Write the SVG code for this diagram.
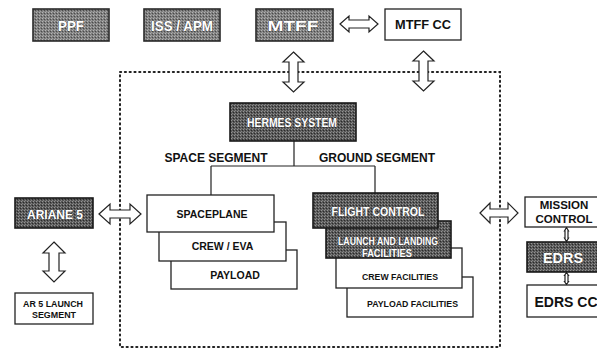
<svg xmlns="http://www.w3.org/2000/svg" width="597" height="353" viewBox="0 0 597 353">
<style>
  .lbl { font-family: "Liberation Sans", Arial, sans-serif; font-weight: bold; fill: #111; text-anchor: middle; dominant-baseline: central; }
  .wlbl { font-family: "Liberation Sans", Arial, sans-serif; font-weight: bold; fill: #fff; stroke: #333; stroke-width: 0.6; paint-order: stroke; text-anchor: middle; dominant-baseline: central; }
  .wbox { fill: #fff; stroke: #222; stroke-width: 1.3; }
  .gbox { fill: url(#gmid); stroke: #2a2a2a; stroke-width: 1.6; }
  .dbox { fill: url(#gdark); stroke: #1a1a1a; stroke-width: 1.6; }
  .line { fill: none; stroke: #222; stroke-width: 1.2; }
  .arrow { fill: #fff; stroke: #222; stroke-width: 1.2; stroke-linejoin: miter; }
  .dots { fill: none; stroke: #222; stroke-width: 2; stroke-dasharray: 1.2 3.6; stroke-linecap: round; }
</style>
<defs>
  <pattern id="gmid" width="3" height="3" patternUnits="userSpaceOnUse">
    <rect width="3" height="3" fill="#7e7e7e"/>
    <rect x="0" y="0" width="1" height="1" fill="#b4b4b4"/>
    <rect x="2" y="1" width="1" height="1" fill="#4a4a4a"/>
    <rect x="1" y="2" width="1" height="1" fill="#a0a0a0"/>
  </pattern>
  <pattern id="gdark" width="3" height="3" patternUnits="userSpaceOnUse">
    <rect width="3" height="3" fill="#585858"/>
    <rect x="0" y="0" width="1" height="1" fill="#949494"/>
    <rect x="2" y="1" width="1" height="1" fill="#2a2a2a"/>
    <rect x="1" y="2" width="1" height="1" fill="#828282"/>
  </pattern>
</defs>

<rect width="597" height="353" fill="#fff"/>

<!-- connectors -->
<g id="connectors">
  <rect class="dots" x="120" y="72" width="380" height="275"/>
  <path class="line" d="M294 141 V166 M211 166 H375 M211 166 V195 M375 166 V193"/>
  <!-- MTFF <-> MTFF CC -->
  <path class="arrow" d="M340 24 L349 16 L349 20 L369 20 L369 16 L378 24 L369 32 L369 28 L349 28 L349 32 Z"/>
  <!-- MTFF vertical -->
  <path class="arrow" d="M293.5 52 L304 62 L298 62 L298 82 L304 82 L293.5 92 L283 82 L289 82 L289 62 L283 62 Z"/>
  <!-- MTFF CC vertical -->
  <path class="arrow" d="M423.5 51 L434 61 L428 61 L428 81 L434 81 L423.5 91 L413 81 L419 81 L419 61 L413 61 Z"/>
  <!-- Ariane horizontal -->
  <path class="arrow" d="M99 214 L110 204 L110 210 L130 210 L130 204 L141 214 L130 224 L130 218 L110 218 L110 224 Z"/>
  <!-- Mission control horizontal -->
  <path class="arrow" d="M480 213 L490 203 L490 209 L508 209 L508 203 L518 213 L508 223 L508 217 L490 217 L490 223 Z"/>
  <!-- Ariane vertical -->
  <path class="arrow" d="M54 242 L65 253 L59 253 L59 271 L65 271 L54 282 L43 271 L49 271 L49 253 L43 253 Z"/>
  <!-- small EDRS connectors -->
  <path class="arrow" d="M566.5 227.5 L568.5 231 L568 231 L568 238 L568.5 238 L566.5 241.5 L564.5 238 L565 238 L565 231 L564.5 231 Z"/>
  <path class="arrow" d="M566.5 272.5 L568.5 275.5 L568 275.5 L568 281.5 L568.5 281.5 L566.5 284.5 L564.5 281.5 L565 281.5 L565 275.5 L564.5 275.5 Z"/>
</g>

<g id="ppf">
  <rect class="gbox" x="33" y="9" width="76" height="32"/>
  <text class="wlbl" x="71" y="25.5" font-size="14" textLength="26" lengthAdjust="spacingAndGlyphs">PPF</text>
</g>
<g id="iss-apm">
  <rect class="gbox" x="144" y="9" width="76" height="32"/>
  <text class="wlbl" x="182" y="25.5" font-size="14" textLength="62" lengthAdjust="spacingAndGlyphs">ISS / APM</text>
</g>
<g id="mtff">
  <rect class="gbox" x="256" y="9" width="77" height="32"/>
  <text class="wlbl" x="293" y="25.5" font-size="14" textLength="51" lengthAdjust="spacingAndGlyphs">MTFF</text>
</g>
<g id="mtff-cc">
  <rect class="wbox" x="385" y="9" width="76" height="31"/>
  <text class="lbl" x="423" y="24.5" font-size="13" textLength="56" lengthAdjust="spacingAndGlyphs">MTFF CC</text>
</g>

<g id="hermes-system">
  <rect class="dbox" x="230" y="103" width="126" height="38"/>
  <text class="wlbl" x="292" y="122.5" font-size="12.5" textLength="90" lengthAdjust="spacingAndGlyphs">HERMES SYSTEM</text>
</g>

<text class="lbl" x="216" y="157.5" font-size="12">SPACE SEGMENT</text>
<text class="lbl" x="377" y="157.5" font-size="12">GROUND SEGMENT</text>

<!-- space segment stack -->
<g id="payload">
  <rect class="wbox" x="171" y="250" width="126" height="39"/>
  <text class="lbl" x="235" y="275" font-size="10.5">PAYLOAD</text>
</g>
<g id="crew-eva">
  <rect class="wbox" x="159" y="222" width="127" height="39"/>
  <text class="lbl" x="222.5" y="246" font-size="10.5">CREW / EVA</text>
</g>
<g id="spaceplane">
  <rect class="wbox" x="147" y="195" width="127" height="37"/>
  <text class="lbl" x="212" y="214" font-size="10.5">SPACEPLANE</text>
</g>

<!-- ground segment stack -->
<g id="payload-facilities">
  <rect class="wbox" x="347" y="277" width="126" height="40"/>
  <text class="lbl" x="412.5" y="303" font-size="9.5" textLength="91" lengthAdjust="spacingAndGlyphs">PAYLOAD FACILITIES</text>
</g>
<g id="crew-facilities">
  <rect class="wbox" x="336" y="248" width="126" height="40"/>
  <text class="lbl" x="400" y="276" font-size="9.5" textLength="76" lengthAdjust="spacingAndGlyphs">CREW FACILITIES</text>
</g>
<g id="launch-landing">
  <rect class="dbox" x="326" y="221" width="125" height="37"/>
  <text class="wlbl" x="388" y="241" font-size="10.5" textLength="100" lengthAdjust="spacingAndGlyphs">LAUNCH AND LANDING</text>
  <text class="wlbl" x="387" y="252.5" font-size="10.5" textLength="50" lengthAdjust="spacingAndGlyphs">FACILITIES</text>
</g>
<g id="flight-control">
  <rect class="dbox" x="313" y="193" width="125" height="35"/>
  <text class="wlbl" x="378" y="212" font-size="12.5" textLength="93" lengthAdjust="spacingAndGlyphs">FLIGHT CONTROL</text>
</g>

<g id="ariane-5">
  <rect class="dbox" x="15" y="198" width="78" height="30"/>
  <text class="wlbl" x="55" y="214" font-size="13" textLength="56" lengthAdjust="spacingAndGlyphs">ARIANE 5</text>
</g>
<g id="ar5-launch-segment">
  <rect class="wbox" x="15" y="293" width="78" height="31"/>
  <text class="lbl" x="53" y="303.5" font-size="9.5" textLength="60" lengthAdjust="spacingAndGlyphs">AR 5 LAUNCH</text>
  <text class="lbl" x="54" y="314.5" font-size="9.5" textLength="44" lengthAdjust="spacingAndGlyphs">SEGMENT</text>
</g>

<g id="mission-control">
  <rect class="wbox" x="525" y="197" width="80" height="30"/>
  <text class="lbl" x="564" y="205" font-size="11.5">MISSION</text>
  <text class="lbl" x="564" y="218.5" font-size="11.5">CONTROL</text>
</g>
<g id="edrs">
  <rect class="dbox" x="527" y="242" width="80" height="30"/>
  <text class="wlbl" x="563" y="257.5" font-size="14" textLength="40" lengthAdjust="spacingAndGlyphs">EDRS</text>
</g>
<g id="edrs-cc">
  <rect class="wbox" x="527" y="285" width="80" height="32"/>
  <text class="lbl" x="566" y="301.5" font-size="14">EDRS CC</text>
</g>
</svg>
